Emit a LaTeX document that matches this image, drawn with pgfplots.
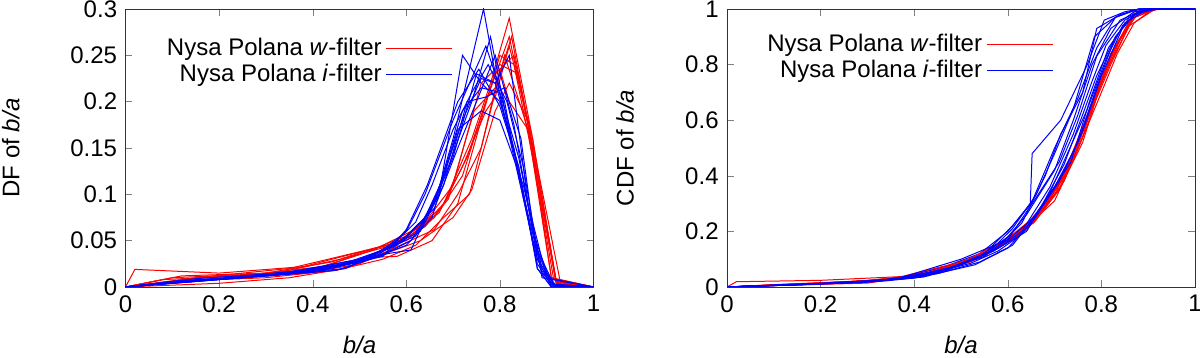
\documentclass[border=0pt,12pt]{standalone}
\usepackage{fontspec}
\setmainfont{Liberation Sans}
\usepackage{pgfplots}
\pgfplotsset{compat=1.18}

\pgfplotsset{
  wline/.style={color=red, line width=0.5pt},
  iline/.style={color=blue, line width=0.5pt},
  wleg/.style={legend image code/.code={\draw[red, line width=#1] (0pt,0pt) -- (33pt,0pt);}},
  ileg/.style={legend image code/.code={\draw[blue, line width=#1] (0pt,0pt) -- (33pt,0pt);}},
  panel/.style={
    scale only axis, width=234pt, height=139pt,
    xmin=0, xmax=1,
    xtick={0,0.2,...,1},
    tick align=inside, major tick length=3.5pt,
    xtick pos=both, ytick pos=both,
    scaled ticks=false,
    /pgf/number format/fixed,
    /pgf/number format/assume math mode=true,
    tick label style={font=\fontsize{12}{14}\selectfont},
    label style={font=\fontsize{12}{14}\selectfont},
    xlabel={\textit{b/a}},
    xlabel style={at={(axis description cs:0.5,-0.21)}, anchor=center},
    legend cell align=right,
    legend plot pos=right,
    legend style={draw=none, fill=none, font=\fontsize{12}{14}\selectfont,
      anchor=north east, inner sep=0pt, row sep=-1.5pt},
    axis line style={black!80},
  },
}

\begin{document}
\begin{tikzpicture}
% ---------------- left: DF ----------------
\begin{axis}[panel,
  ymin=0, ymax=0.3,
  ytick={0,0.05,...,0.3},
  ylabel={DF of \textit{b/a}},
  ylabel style={at={(axis description cs:-0.245,0.5)}, anchor=center},
  legend style={at={(axis description cs:0.7,0.91)}},
]
\addplot[wline, wleg=0.5pt] coordinates {(0,0) (0.02,0.019) (0.2,0.015) (0.38,0.022) (0.48,0.035) (0.56,0.045) (0.62,0.058) (0.68,0.09) (0.74,0.16) (0.78,0.22) (0.82,0.29) (0.87,0.16) (0.92,0.006) (1,0)};
\addlegendentry{Nysa Polana \textit{w}-filter}
\addplot[iline, ileg=0.5pt] coordinates {(0,0) (0.15,0.006) (0.35,0.015) (0.48,0.025) (0.56,0.038) (0.62,0.06) (0.67,0.1) (0.72,0.25) (0.76,0.22) (0.8,0.2) (0.84,0.13) (0.88,0.02) (0.91,0) (1,0)};
\addlegendentry{Nysa Polana \textit{i}-filter}
% other w-filter curves
\addplot[wline, forget plot] coordinates {(0,0) (0.12,0.012) (0.3,0.015) (0.44,0.027) (0.52,0.04) (0.6,0.05) (0.66,0.075) (0.72,0.12) (0.77,0.2) (0.82,0.27) (0.87,0.15) (0.92,0.008) (1,0)};
\addplot[wline, forget plot] coordinates {(0,0) (0.1,0.006) (0.3,0.01) (0.45,0.018) (0.55,0.03) (0.62,0.045) (0.68,0.075) (0.735,0.1) (0.78,0.19) (0.81,0.25) (0.86,0.17) (0.91,0.01) (1,0)};
\addplot[wline, forget plot] coordinates {(0,0) (0.15,0.01) (0.35,0.02) (0.5,0.038) (0.58,0.048) (0.64,0.07) (0.7,0.11) (0.76,0.22) (0.8,0.24) (0.84,0.23) (0.88,0.12) (0.92,0.004) (1,0)};
\addplot[wline, forget plot] coordinates {(0,0) (0.08,0.008) (0.25,0.012) (0.4,0.018) (0.52,0.032) (0.58,0.033) (0.655,0.05) (0.71,0.09) (0.76,0.18) (0.8,0.25) (0.83,0.24) (0.87,0.14) (0.92,0.006) (1,0)};
\addplot[wline, forget plot] coordinates {(0,0) (0.18,0.008) (0.38,0.015) (0.5,0.035) (0.6,0.055) (0.67,0.08) (0.72,0.13) (0.77,0.19) (0.79,0.205) (0.82,0.26) (0.87,0.16) (0.92,0.005) (1,0)};
\addplot[wline, forget plot] coordinates {(0,0) (0.2,0.004) (0.35,0.01) (0.47,0.02) (0.55,0.035) (0.63,0.05) (0.7,0.075) (0.74,0.105) (0.79,0.19) (0.82,0.22) (0.86,0.18) (0.91,0.01) (1,0)};
\addplot[wline, forget plot] coordinates {(0,0) (0.1,0.01) (0.28,0.014) (0.42,0.022) (0.53,0.04) (0.61,0.06) (0.675,0.085) (0.73,0.14) (0.79,0.23) (0.83,0.25) (0.88,0.13) (0.93,0.003) (1,0)};
\addplot[wline, forget plot] coordinates {(0,0) (0.22,0.01) (0.4,0.016) (0.5,0.025) (0.6,0.048) (0.66,0.062) (0.71,0.1) (0.76,0.15) (0.8,0.235) (0.82,0.2) (0.86,0.17) (0.915,0.008) (1,0)};
\addplot[wline, forget plot] coordinates {(0,0) (0.14,0.009) (0.33,0.016) (0.46,0.03) (0.57,0.045) (0.64,0.065) (0.69,0.095) (0.745,0.19) (0.79,0.215) (0.825,0.27) (0.87,0.15) (0.92,0.007) (1,0)};
% other i-filter curves
\addplot[iline, forget plot] coordinates {(0,0) (0.1,0.005) (0.3,0.012) (0.45,0.022) (0.55,0.035) (0.61,0.05) (0.66,0.09) (0.7,0.16) (0.765,0.3) (0.79,0.23) (0.83,0.14) (0.88,0.03) (0.91,0.001) (1,0)};
\addplot[iline, forget plot] coordinates {(0,0) (0.2,0.008) (0.38,0.018) (0.5,0.028) (0.58,0.045) (0.64,0.075) (0.69,0.13) (0.74,0.2) (0.78,0.27) (0.815,0.18) (0.85,0.1) (0.89,0.015) (0.92,0) (1,0)};
\addplot[iline, forget plot] coordinates {(0,0) (0.12,0.007) (0.32,0.013) (0.47,0.02) (0.55,0.04) (0.6,0.06) (0.64,0.1) (0.7,0.18) (0.77,0.26) (0.81,0.2) (0.84,0.12) (0.88,0.025) (0.91,0.002) (1,0)};
\addplot[iline, forget plot] coordinates {(0,0) (0.18,0.008) (0.36,0.017) (0.5,0.03) (0.59,0.048) (0.65,0.08) (0.7,0.14) (0.75,0.23) (0.79,0.22) (0.82,0.25) (0.86,0.09) (0.9,0.01) (1,0)};
\addplot[iline, forget plot] coordinates {(0,0) (0.08,0.004) (0.28,0.011) (0.44,0.02) (0.52,0.03) (0.6,0.045) (0.655,0.075) (0.71,0.17) (0.76,0.19) (0.8,0.18) (0.85,0.11) (0.89,0.02) (0.92,0) (1,0)};
\addplot[iline, forget plot] coordinates {(0,0) (0.25,0.01) (0.4,0.02) (0.52,0.032) (0.58,0.05) (0.62,0.07) (0.655,0.11) (0.7,0.17) (0.74,0.21) (0.775,0.24) (0.815,0.2) (0.85,0.13) (0.89,0.01) (1,0)};
\addplot[iline, forget plot] coordinates {(0,0) (0.15,0.009) (0.33,0.015) (0.46,0.024) (0.55,0.04) (0.62,0.055) (0.67,0.105) (0.72,0.19) (0.76,0.215) (0.8,0.21) (0.84,0.14) (0.88,0.04) (0.915,0.003) (1,0)};
\addplot[iline, forget plot] coordinates {(0,0) (0.1,0.006) (0.29,0.012) (0.43,0.02) (0.54,0.035) (0.6,0.055) (0.66,0.085) (0.71,0.15) (0.75,0.2) (0.79,0.25) (0.83,0.175) (0.87,0.06) (0.91,0.002) (1,0)};
\addplot[iline, forget plot] coordinates {(0,0) (0.22,0.009) (0.37,0.016) (0.49,0.026) (0.57,0.045) (0.63,0.06) (0.68,0.11) (0.73,0.2) (0.77,0.205) (0.81,0.215) (0.845,0.16) (0.88,0.03) (0.92,0.001) (1,0)};
\addplot[iline, forget plot] coordinates {(0,0) (0.13,0.006) (0.31,0.012) (0.45,0.018) (0.56,0.036) (0.61,0.04) (0.665,0.1) (0.72,0.18) (0.76,0.225) (0.79,0.22) (0.83,0.15) (0.87,0.05) (0.91,0.003) (1,0)};
\addplot[iline, forget plot] coordinates {(0,0) (0.17,0.008) (0.34,0.014) (0.42,0.018) (0.55,0.033) (0.6,0.062) (0.645,0.11) (0.71,0.2) (0.755,0.235) (0.8,0.195) (0.84,0.13) (0.88,0.02) (0.91,0) (1,0)};
\end{axis}

% ---------------- right: CDF ----------------
\begin{axis}[panel, at={(300.75pt,0pt)},
  ymin=0, ymax=1,
  ytick={0,0.2,...,1},
  ylabel={CDF of \textit{b/a}},
  ylabel style={at={(axis description cs:-0.218,0.5)}, anchor=center},
  legend style={at={(axis description cs:0.698,0.925)}},
]
\addplot[wline, wleg=0.6pt] coordinates {(0,0) (0.02,0.019) (0.2,0.024) (0.38,0.038) (0.48,0.08) (0.56,0.125) (0.62,0.185) (0.68,0.29) (0.73,0.43) (0.77,0.62) (0.82,0.83) (0.87,0.99) (0.92,1) (1,1)};
\addlegendentry{Nysa Polana \textit{w}-filter}
\addplot[iline, ileg=0.6pt] coordinates {(0,0) (0.15,0.008) (0.35,0.025) (0.46,0.07) (0.54,0.12) (0.6,0.2) (0.65,0.3) (0.7,0.5) (0.75,0.68) (0.79,0.86) (0.83,0.97) (0.87,0.995) (0.91,1) (1,1)};
\addlegendentry{Nysa Polana \textit{i}-filter}
% other w-filter curves
\addplot[wline, forget plot] coordinates {(0,0) (0.12,0.01) (0.3,0.022) (0.44,0.05) (0.52,0.09) (0.6,0.16) (0.66,0.24) (0.72,0.38) (0.77,0.58) (0.82,0.84) (0.87,0.98) (0.92,1) (1,1)};
\addplot[wline, forget plot] coordinates {(0,0) (0.1,0.005) (0.3,0.014) (0.45,0.05) (0.55,0.11) (0.62,0.19) (0.68,0.3) (0.73,0.45) (0.78,0.66) (0.81,0.79) (0.86,0.96) (0.91,1) (1,1)};
\addplot[wline, forget plot] coordinates {(0,0) (0.15,0.01) (0.35,0.028) (0.5,0.09) (0.58,0.14) (0.64,0.21) (0.7,0.33) (0.76,0.56) (0.8,0.73) (0.84,0.89) (0.88,0.99) (0.92,1) (1,1)};
\addplot[wline, forget plot] coordinates {(0,0) (0.08,0.006) (0.25,0.016) (0.4,0.037) (0.52,0.1) (0.6,0.17) (0.655,0.23) (0.71,0.35) (0.76,0.52) (0.8,0.74) (0.83,0.86) (0.87,0.97) (0.92,1) (1,1)};
\addplot[wline, forget plot] coordinates {(0,0) (0.18,0.012) (0.38,0.03) (0.5,0.085) (0.6,0.175) (0.67,0.27) (0.72,0.4) (0.77,0.6) (0.79,0.68) (0.82,0.8) (0.87,0.98) (0.92,1) (1,1)};
\addplot[wline, forget plot] coordinates {(0,0) (0.2,0.01) (0.35,0.025) (0.47,0.065) (0.55,0.12) (0.63,0.2) (0.7,0.31) (0.741,0.46) (0.8,0.7) (0.834,0.84) (0.87,0.95) (0.91,1) (1,1)};
\addplot[wline, forget plot] coordinates {(0,0) (0.1,0.008) (0.28,0.02) (0.42,0.045) (0.53,0.1) (0.61,0.18) (0.675,0.28) (0.73,0.42) (0.79,0.69) (0.83,0.87) (0.88,0.99) (0.93,1) (1,1)};
\addplot[wline, forget plot] coordinates {(0,0) (0.22,0.014) (0.4,0.036) (0.5,0.08) (0.6,0.165) (0.66,0.245) (0.71,0.355) (0.76,0.54) (0.8,0.76) (0.82,0.81) (0.86,0.94) (0.915,1) (1,1)};
\addplot[wline, forget plot] coordinates {(0,0) (0.14,0.01) (0.33,0.025) (0.46,0.06) (0.57,0.13) (0.64,0.205) (0.69,0.31) (0.745,0.5) (0.79,0.7) (0.825,0.85) (0.87,0.98) (0.92,1) (1,1)};
% other i-filter curves
\addplot[iline, forget plot] coordinates {(0,0) (0.1,0.005) (0.3,0.018) (0.45,0.05) (0.55,0.12) (0.61,0.22) (0.648,0.3) (0.652,0.48) (0.713,0.6) (0.77,0.8) (0.806,0.96) (0.85,0.99) (0.88,1) (1,1)};
\addplot[iline, forget plot] coordinates {(0,0) (0.2,0.012) (0.38,0.03) (0.5,0.08) (0.58,0.14) (0.63,0.2) (0.69,0.36) (0.74,0.55) (0.78,0.74) (0.81,0.87) (0.85,0.96) (0.89,1) (1,1)};
\addplot[iline, forget plot] coordinates {(0,0) (0.12,0.008) (0.32,0.02) (0.47,0.06) (0.57,0.13) (0.63,0.23) (0.68,0.4) (0.713,0.55) (0.76,0.7) (0.79,0.93) (0.84,0.98) (0.88,1) (1,1)};
\addplot[iline, forget plot] coordinates {(0,0) (0.18,0.01) (0.36,0.028) (0.5,0.1) (0.6,0.17) (0.65,0.24) (0.7,0.36) (0.75,0.52) (0.79,0.72) (0.83,0.9) (0.87,0.98) (0.9,1) (1,1)};
\addplot[iline, forget plot] coordinates {(0,0) (0.08,0.004) (0.28,0.016) (0.44,0.045) (0.53,0.08) (0.6,0.14) (0.655,0.24) (0.71,0.38) (0.76,0.56) (0.8,0.76) (0.85,0.95) (0.89,0.99) (0.92,1) (1,1)};
\addplot[iline, forget plot] coordinates {(0,0) (0.25,0.014) (0.4,0.032) (0.52,0.085) (0.58,0.13) (0.63,0.19) (0.68,0.31) (0.735,0.45) (0.775,0.67) (0.815,0.86) (0.86,0.97) (0.9,1) (1,1)};
\addplot[iline, forget plot] coordinates {(0,0) (0.15,0.01) (0.33,0.024) (0.46,0.06) (0.55,0.115) (0.6,0.17) (0.66,0.32) (0.71,0.45) (0.75,0.62) (0.79,0.83) (0.84,0.96) (0.88,0.99) (0.915,1) (1,1)};
\addplot[iline, forget plot] coordinates {(0,0) (0.1,0.006) (0.29,0.018) (0.43,0.04) (0.53,0.1) (0.6,0.18) (0.64,0.26) (0.7,0.42) (0.74,0.6) (0.78,0.8) (0.82,0.93) (0.87,0.99) (0.91,1) (1,1)};
\addplot[iline, forget plot] coordinates {(0,0) (0.22,0.013) (0.37,0.03) (0.49,0.075) (0.57,0.13) (0.64,0.2) (0.69,0.34) (0.73,0.49) (0.77,0.64) (0.81,0.82) (0.845,0.94) (0.88,0.99) (0.92,1) (1,1)};
\addplot[iline, forget plot] coordinates {(0,0) (0.13,0.007) (0.31,0.019) (0.45,0.048) (0.54,0.09) (0.61,0.15) (0.665,0.27) (0.72,0.44) (0.76,0.62) (0.79,0.76) (0.83,0.9) (0.87,0.98) (0.91,1) (1,1)};
\addplot[iline, forget plot] coordinates {(0,0) (0.17,0.009) (0.34,0.022) (0.42,0.036) (0.55,0.11) (0.61,0.21) (0.66,0.33) (0.7,0.48) (0.74,0.64) (0.785,0.9) (0.83,0.97) (0.88,1) (1,1)};
\end{axis}

\pgfresetboundingbox
\path[use as bounding box] (-62.75pt,-35.5pt) rectangle (537.25pt,143.5pt);
\end{tikzpicture}
\end{document}
